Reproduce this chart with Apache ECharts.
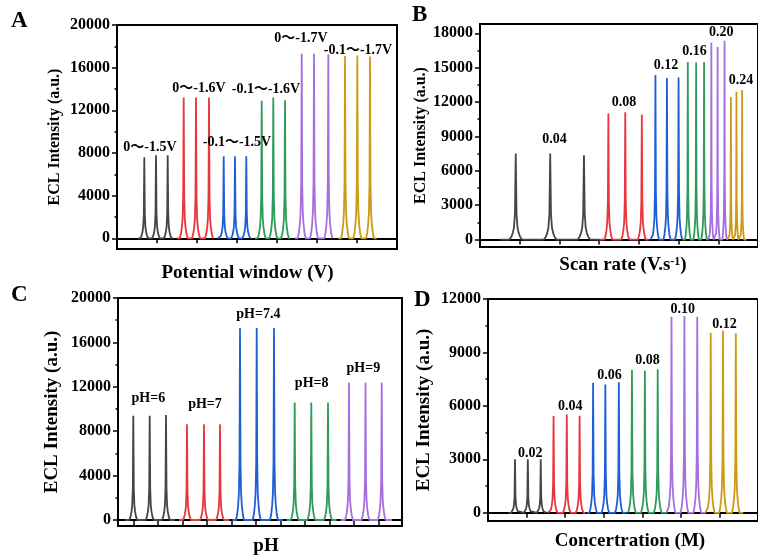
<!DOCTYPE html>
<html>
<head>
<meta charset="utf-8">
<title>ECL optimisation</title>
<script src="https://cdn.jsdelivr.net/npm/echarts@6/dist/echarts.min.js"></script>
<style>
html, body { margin: 0; padding: 0; background: #fff; }
#main { width: 758px; height: 560px; }
</style>
</head>
<body>
<div id="main"></div>
<script>
// peak shape: time offset and fraction of the peak height
var shapeDx = [-4, -2.8, -1.8, -1.1, -0.5, 0, 0.5, 1.1, 1.8, 2.8, 4];
var shapeF  = [0, 0.03, 0.08, 0.14, 0.3, 1, 0.3, 0.14, 0.08, 0.03, 0];

// A - potential window
var aStart = [21, 59.7, 101, 138, 178, 221.3];
var aEnd   = [56, 96, 134, 173, 215.5, 259.7];
var aPeakT = [[27.3, 39, 50.7], [66.7, 79, 92], [106.7, 118, 129.3], [144.7, 156.3, 168], [184.7, 197, 211.3], [228, 240.3, 253]];
var aPeakI = [[7600, 7800, 7800], [13200, 13200, 13200], [7700, 7700, 7700], [12900, 13200, 12950], [17300, 17300, 17250], [17100, 17150, 17050]];
var aPeakW = [1, 1, 1, 1, 1, 1];
var aLabels = ['0～-1.5V', '0～-1.6V', '-0.1～-1.5V', '-0.1～-1.6V', '0～-1.7V', '-0.1～-1.7V'];
var aLabelT = [33, 82, 120, 149, 184, 241];
var aLabelI = [8560, 14090, 8960, 13960, 18740, 17580];
var aTicks = [0, 4000, 8000, 12000, 16000, 20000];

// B - scan rate
var bStart = [20.7, 120, 171.7, 204, 230, 249];
var bEnd   = [120, 170, 204, 230, 249, 268.3];
var bPeakT = [[36, 70.7, 104.7], [129.3, 146.3, 163], [176.7, 188.3, 200], [209.3, 217.7, 225.7], [233, 239.3, 246.3], [252.7, 258.3, 264]];
var bPeakI = [[7500, 7500, 7350], [11000, 11100, 10900], [14350, 14100, 14150], [15500, 15450, 15500], [17200, 16800, 17350], [12450, 12900, 13050]];
var bPeakW = [1.6, 1, 0.9, 0.7, 0.55, 0.5];
var bLabels = ['0.04', '0.08', '0.12', '0.16', '0.20', '0.24'];
var bLabelT = [75, 145, 187.3, 216, 243, 263];
var bLabelI = [8740, 11975, 15170, 16400, 18090, 13925];
var bTicks = [0, 3000, 6000, 9000, 12000, 15000, 18000];

// C - pH
var cStart = [7, 61, 114.3, 168.7, 222.7];
var cEnd   = [57, 111.3, 164.7, 218.7, 274];
var cPeakT = [[15.3, 31.7, 48], [69, 86, 102], [122, 138.7, 156], [176.7, 193.3, 210], [231, 247.5, 263.7]];
var cPeakI = [[9400, 9400, 9450], [8630, 8630, 8630], [17290, 17290, 17290], [10590, 10590, 10590], [12390, 12390, 12390]];
var cPeakW = [1, 1, 1, 1, 1];
var cLabels = ['pH=6', 'pH=7', 'pH=7.4', 'pH=8', 'pH=9'];
var cLabelT = [30.3, 87, 140.3, 193.7, 245.3];
var cLabelI = [10980, 10375, 18500, 12270, 13680];
var cTicks = [0, 4000, 8000, 12000, 16000, 20000];
var cTimeTicks = [15.5, 40, 64.5, 89, 113.5, 138, 162.5, 187, 211.5, 236, 260.5];

// D - concentration
var dStart = [21.3, 62, 102.7, 145.3, 185.3, 225.3];
var dEnd   = [60.3, 101.3, 143.7, 185.3, 225.3, 264.7];
var dPeakT = [[28, 41.3, 54.7], [68, 81.7, 95], [109, 121.7, 135.7], [149.3, 162.7, 176], [190.3, 203.7, 217], [231, 243.7, 257]];
var dPeakI = [[3000, 3000, 3000], [5430, 5520, 5450], [7300, 7200, 7330], [8020, 7970, 8060], [11000, 11050, 11000], [10100, 10230, 10080]];
var dPeakW = [1, 1, 1, 1, 1, 1];
var dLabels = ['0.02', '0.04', '0.06', '0.08', '0.10', '0.12'];
var dLabelT = [43.7, 85.3, 126, 165.3, 202, 245.3];
var dLabelI = [3360, 5970, 7710, 8550, 11400, 10600];
var dTicks = [0, 3000, 6000, 9000, 12000];

var colors = ['#454545', '#e8363c', '#1f5fd6', '#2f9b5a', '#a56fe0', '#cc9a14'];
var serif = 'Liberation Serif, Noto Sans CJK SC, serif';

function trace(start, end, peaksT, peaksI, w) {
    var pts = [[start, 0]];
    for (var i = 0; i < peaksT.length; i++) {
        for (var j = 0; j < shapeDx.length; j++) {
            pts.push([peaksT[i] + shapeDx[j] * w, peaksI[i] * shapeF[j]]);
        }
    }
    pts.push([end, 0]);
    return pts;
}

function minors(ticks) {
    var out = [];
    for (var i = 0; i < ticks.length - 1; i++) out.push((ticks[i] + ticks[i + 1]) / 2);
    return out;
}

var panels = [
    { start: aStart, end: aEnd, t: aPeakT, I: aPeakI, w: aPeakW, labels: aLabels, lt: aLabelT, li: aLabelI, ticks: aTicks,
      grid: { left: 117, top: 25, width: 280, height: 224 }, min: -1000, max: 20000, tmax: 280,
      xName: 'Potential window (V)', xGap: 15, xPad: [0, 19, 0, 0], yGap: 54, ySize: 16 },
    { start: bStart, end: bEnd, t: bPeakT, I: bPeakI, w: bPeakW, labels: bLabels, lt: bLabelT, li: bLabelI, ticks: bTicks,
      grid: { left: 480, top: 24, width: 280, height: 223 }, min: -650, max: 18810, tmax: 280,
      xName: 'Scan rate (V.s{sup|-1})', xGap: 9, xPad: [0, 0, 0, 8], yGap: 44, ySize: 16 },
    { start: cStart, end: cEnd, t: cPeakT, I: cPeakI, w: cPeakW, labels: cLabels, lt: cLabelT, li: cLabelI, ticks: cTicks,
      grid: { left: 118, top: 298, width: 284, height: 228 }, min: -540, max: 20000, tmax: 284, timeTicks: cTimeTicks,
      xName: 'pH', xGap: 11, xPad: [0, 0, 0, 12], yGap: 56, ySize: 19 },
    { start: dStart, end: dEnd, t: dPeakT, I: dPeakI, w: dPeakW, labels: dLabels, lt: dLabelT, li: dLabelI, ticks: dTicks,
      grid: { left: 488, top: 299, width: 280, height: 222 }, min: -460, max: 12000, tmax: 280,
      xName: 'Concertration (M)', xGap: 11, xPad: [0, 0, 0, 14], yGap: 54, ySize: 19 }
];

var grids = [], xAxes = [], yAxes = [], series = [];
panels.forEach(function (p, k) {
    grids.push(Object.assign({ show: true, borderColor: '#000', borderWidth: 2 }, p.grid));

    var xTick = { show: true, length: 5, lineStyle: { color: '#000', width: 1.5 } };
    if (p.timeTicks) xTick.customValues = p.timeTicks;
    xAxes.push({
        gridIndex: k, type: 'value', min: 0, max: p.tmax, interval: 40,
        axisLine: { lineStyle: { color: '#000', width: 2 } },
        axisTick: xTick,
        axisLabel: { show: false },
        splitLine: { show: false },
        name: p.xName, nameLocation: 'middle', nameGap: p.xGap,
        nameTextStyle: {
            fontFamily: serif, fontWeight: 'bold', fontSize: 19, color: '#000', padding: p.xPad,
            rich: { sup: { fontFamily: serif, fontWeight: 'bold', fontSize: 12, color: '#000', verticalAlign: 'top' } }
        }
    });

    yAxes[k] = {
        gridIndex: k, type: 'value', min: p.min, max: p.max,
        axisLine: { show: true, lineStyle: { color: '#000', width: 2 } },
        axisTick: { show: true, length: 5, customValues: p.ticks, lineStyle: { color: '#000', width: 1.5 } },
        axisLabel: {
            customValues: p.ticks, fontFamily: serif, fontWeight: 'bold', fontSize: 16, color: '#000', margin: 7,
            formatter: function (v) { return String(v); }
        },
        splitLine: { show: false },
        name: 'ECL Intensity (a.u.)', nameLocation: 'middle', nameGap: p.yGap,
        nameTextStyle: { fontFamily: serif, fontWeight: 'bold', fontSize: p.ySize, color: '#000' }
    };
    // minor ticks
    yAxes[k + 4] = {
        gridIndex: k, type: 'value', min: p.min, max: p.max, position: 'left',
        axisLine: { show: false },
        axisTick: { show: true, length: 2.5, customValues: minors(p.ticks), lineStyle: { color: '#000', width: 1.5 } },
        axisLabel: { show: false },
        splitLine: { show: false }
    };

    p.start.forEach(function (s, g) {
        series.push({
            type: 'line', xAxisIndex: k, yAxisIndex: k,
            data: trace(s, p.end[g], p.t[g], p.I[g], p.w[g]),
            showSymbol: false, symbol: 'none', silent: true,
            lineStyle: { color: colors[g], width: 1.8 }
        });
    });

    series.push({
        type: 'scatter', xAxisIndex: k, yAxisIndex: k, symbolSize: 0, silent: true, z: 5,
        itemStyle: { color: '#000' },
        label: {
            show: true, position: 'inside', formatter: '{b}', color: '#000', opacity: 1,
            textBorderWidth: 0, fontFamily: serif, fontWeight: 'bold', fontSize: 14
        },
        data: p.labels.map(function (n, i) { return { name: n, value: [p.lt[i], p.li[i]] }; })
    });
});

var letterStyle = { fontFamily: serif, fontWeight: 'bold', fontSize: 23, color: '#000' };
var chart = echarts.init(document.getElementById('main'));
chart.setOption({
    animation: false,
    backgroundColor: '#fff',
    title: [
        { text: 'A', left: 11, top: 10, textStyle: letterStyle, padding: 0 },
        { text: 'B', left: 412, top: 4, textStyle: letterStyle, padding: 0 },
        { text: 'C', left: 11, top: 284, textStyle: letterStyle, padding: 0 },
        { text: 'D', left: 414, top: 289, textStyle: letterStyle, padding: 0 }
    ],
    grid: grids,
    xAxis: xAxes,
    yAxis: yAxes,
    series: series
});
</script>
</body>
</html>
